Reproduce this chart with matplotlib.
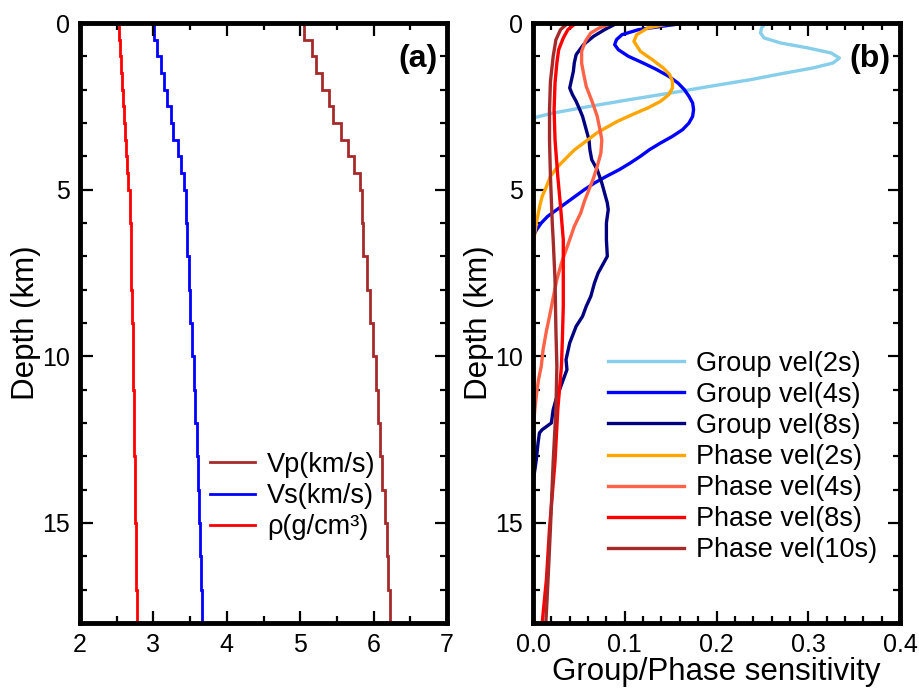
import numpy as np
import matplotlib
matplotlib.use("Agg")
import matplotlib.pyplot as plt
from matplotlib.ticker import MultipleLocator, FormatStrFormatter

plt.rcParams['font.family'] = ['Liberation Sans', 'DejaVu Sans']

# ---------------- (a) layered velocity / density model ----------------
layer_edges = [0, 0.5, 1.0, 1.5, 2.0, 2.5, 3.0, 3.5, 4.0, 4.5, 5, 6, 7, 8, 9,
               10, 11, 12, 13, 14, 15, 16, 17, 18]
vp = [5.05, 5.16, 5.22, 5.30, 5.39, 5.45, 5.55, 5.65, 5.73, 5.82, 5.84, 5.86,
      5.91, 5.95, 5.99, 6.03, 6.06, 6.09, 6.12, 6.15, 6.18, 6.20, 6.23]
vs = [3.01, 3.045, 3.10, 3.145, 3.19, 3.24, 3.27, 3.33, 3.38, 3.42, 3.44, 3.455,
      3.48, 3.50, 3.52, 3.55, 3.57, 3.59, 3.61, 3.62, 3.64, 3.645, 3.66]
rho = [2.53, 2.545, 2.56, 2.575, 2.59, 2.605, 2.615, 2.63, 2.645, 2.66, 2.675,
       2.69, 2.70, 2.71, 2.72, 2.727, 2.733, 2.74, 2.745, 2.75, 2.757, 2.763, 2.77]
model_labels = ['Vp(km/s)', 'Vs(km/s)', 'ρ(g/cm³)']

# ---------------- (b) depth sensitivity kernels ----------------
g2_depth = [0, 0.15, 0.3, 0.45, 0.6, 0.75, 0.9, 1.05, 1.2, 1.35, 1.5, 1.7, 1.9,
            2.1, 2.3, 2.5, 2.7, 2.85]
g2_sens = [0.254, 0.249, 0.248, 0.252, 0.270, 0.300, 0.325, 0.334, 0.327, 0.305,
           0.275, 0.237, 0.193, 0.150, 0.105, 0.062, 0.022, 0.0]

g4_depth = [0, 0.1, 0.2, 0.35, 0.5, 0.65, 0.8, 1.0, 1.2, 1.4, 1.6, 1.8, 2.0, 2.2,
            2.4, 2.6, 2.8, 3.0, 3.2, 3.4, 3.6, 3.8, 4.0, 4.2, 4.4, 4.6, 4.8, 5.0,
            5.2, 5.4, 5.6, 5.8, 6.0, 6.2, 6.4]
g4_sens = [0.167, 0.140, 0.115, 0.097, 0.091, 0.089, 0.093, 0.104, 0.120, 0.135,
           0.148, 0.158, 0.165, 0.170, 0.174, 0.175, 0.174, 0.170, 0.163, 0.152,
           0.139, 0.127, 0.117, 0.106, 0.094, 0.080, 0.067, 0.056, 0.046, 0.036,
           0.026, 0.016, 0.009, 0.004, 0.0]

g8_depth = [0, 0.2, 0.4, 0.65, 0.95, 1.2, 1.45, 1.7, 1.95, 2.15, 2.35, 2.6, 2.8,
            3.1, 3.5, 3.8, 4.1, 4.4, 4.8, 5.1, 5.4, 5.6, 6.0, 6.5, 7.0, 7.2, 7.5,
            7.8, 8.2, 8.5, 8.8, 9.1, 9.6, 10.1, 10.4, 10.7, 11.0, 11.3, 11.6,
            12.0, 12.2, 12.3, 12.6, 13.1, 13.6, 13.8]
g8_sens = [0.092, 0.078, 0.066, 0.055, 0.047, 0.045, 0.044, 0.042, 0.040, 0.043,
           0.047, 0.051, 0.054, 0.057, 0.061, 0.062, 0.064, 0.070, 0.075, 0.078,
           0.081, 0.082, 0.080, 0.080, 0.081, 0.077, 0.071, 0.067, 0.063, 0.058,
           0.054, 0.047, 0.040, 0.036, 0.037, 0.033, 0.029, 0.025, 0.022, 0.020,
           0.010, 0.007, 0.0055, 0.0036, 0.001, 0.0]

p2_depth = [0, 0.15, 0.35, 0.55, 0.85, 1.1, 1.35, 1.55, 1.75, 1.95, 2.15, 2.35,
            2.55, 2.75, 2.95, 3.15, 3.31, 3.5, 3.81, 4.0, 4.31, 4.6, 4.91, 5.2,
            5.5, 6.0, 6.5, 6.8]
p2_sens = [0.152, 0.125, 0.113, 0.110, 0.117, 0.130, 0.142, 0.149, 0.152, 0.152,
           0.148, 0.139, 0.125, 0.108, 0.092, 0.079, 0.069, 0.060, 0.045, 0.038,
           0.027, 0.019, 0.0146, 0.010, 0.0073, 0.0036, 0.001, 0.0]

p4_depth = [0, 0.15, 0.3, 0.55, 0.85, 1.2, 1.5, 1.9, 2.4, 2.8, 3.2, 3.5, 3.9, 4.3,
            4.65, 5.0, 5.35, 5.7, 6.1, 6.5, 7.2, 7.7, 8.24, 8.8, 9.24, 9.8, 10.3,
            10.7, 11.1, 11.6, 12.3]
p4_sens = [0.087, 0.072, 0.063, 0.057, 0.053, 0.053, 0.055, 0.058, 0.065, 0.070,
           0.073, 0.075, 0.074, 0.070, 0.066, 0.061, 0.056, 0.052, 0.045, 0.040,
           0.031, 0.026, 0.022, 0.018, 0.0146, 0.011, 0.009, 0.006, 0.004, 0.002,
           0.0]

p8_depth = [0, 0.2, 0.45, 0.8, 1.2, 1.8, 2.6, 3.5, 4.6, 5.5, 6.5, 7.5, 8.5, 9.5,
            10.3, 11.6, 13.15, 15.16, 16.7, 18]
p8_sens = [0.047, 0.038, 0.033, 0.028, 0.026, 0.024, 0.023, 0.024, 0.027, 0.030,
           0.033, 0.033, 0.033, 0.032, 0.031, 0.027, 0.024, 0.018, 0.0146, 0.010]

p10_depth = [0, 0.2, 0.5, 1.0, 1.76, 2.6, 3.5, 4.6, 6.0, 6.5, 7.7, 9.24, 10.3,
             11.6, 13.15, 15.16, 16.7, 18]
p10_sens = [0.038, 0.030, 0.025, 0.022, 0.019, 0.018, 0.018, 0.019, 0.021, 0.022,
            0.024, 0.025, 0.026, 0.025, 0.022, 0.019, 0.0164, 0.014]

kernel_labels = ['Group vel(2s)', 'Group vel(4s)', 'Group vel(8s)',
                 'Phase vel(2s)', 'Phase vel(4s)', 'Phase vel(8s)',
                 'Phase vel(10s)']
kernel_colors = ['#87CEEB', '#0000FF', '#000080', '#FFA500', '#FF6347',
                 '#FF0000', '#A52A2A']

# ---------------- figure ----------------
fig = plt.figure(figsize=(9.19, 6.89), dpi=100)
ax_a = fig.add_axes([80 / 919, 66 / 689, 367 / 919, 600 / 689])
ax_b = fig.add_axes([533 / 919, 66 / 689, 367 / 919, 600 / 689])

tick_fs = 18
label_fs = 22.5
legend_fs = 19.5


def style_axes(ax):
    for sp in ax.spines.values():
        sp.set_linewidth(3.5)
    ax.tick_params(which='both', direction='in', top=True, right=True,
                   width=1.6, labelsize=tick_fs)
    ax.tick_params(which='major', length=9, pad=7)
    ax.tick_params(which='minor', length=5)
    ax.set_ylim(18, 0)
    ax.yaxis.set_major_locator(MultipleLocator(5))
    ax.yaxis.set_minor_locator(MultipleLocator(1))
    ax.set_ylabel('Depth (km)', fontsize=label_fs, labelpad=1)


# panel (a)
ax_a.stairs(vp, layer_edges, orientation='horizontal', baseline=None,
            color='#A52A2A', linewidth=2.0, label=model_labels[0])
ax_a.stairs(vs, layer_edges, orientation='horizontal', baseline=None,
            color='#0000FF', linewidth=2.0, label=model_labels[1])
ax_a.stairs(rho, layer_edges, orientation='horizontal', baseline=None,
            color='#FF0000', linewidth=2.0, label=model_labels[2])
ax_a.set_xlim(2, 7)
ax_a.xaxis.set_major_locator(MultipleLocator(1))
ax_a.xaxis.set_minor_locator(MultipleLocator(0.5))
style_axes(ax_a)
ax_a.text(0.975, 0.965, '(a)', transform=ax_a.transAxes, ha='right', va='top',
          fontsize=23, fontweight='bold')
ax_a.legend(loc='center left', bbox_to_anchor=(0.354, 0.2117), frameon=False,
            fontsize=legend_fs, handlelength=1.65, handletextpad=0.45,
            labelspacing=0.19, borderpad=0, borderaxespad=0)

# panel (b)
kernels = [(g2_sens, g2_depth), (g4_sens, g4_depth), (g8_sens, g8_depth),
           (p2_sens, p2_depth), (p4_sens, p4_depth), (p8_sens, p8_depth),
           (p10_sens, p10_depth)]
for (s, d), lab, col in zip(kernels, kernel_labels, kernel_colors):
    ax_b.plot(s, d, color=col, linewidth=2.4, label=lab)
ax_b.set_xlim(0, 0.4)
ax_b.xaxis.set_major_locator(MultipleLocator(0.1))
ax_b.xaxis.set_minor_locator(MultipleLocator(0.02))
ax_b.xaxis.set_major_formatter(FormatStrFormatter('%.1f'))
style_axes(ax_b)
ax_b.set_xlabel('Group/Phase sensitivity', fontsize=label_fs, labelpad=0)
ax_b.text(0.975, 0.965, '(b)', transform=ax_b.transAxes, ha='right', va='top',
          fontsize=23, fontweight='bold')
ax_b.legend(loc='center left', bbox_to_anchor=(0.204, 0.2767), frameon=False,
            fontsize=legend_fs, handlelength=2.8, handletextpad=0.45,
            labelspacing=0.19, borderpad=0, borderaxespad=0)

fig.savefig('out.png', dpi=100)
